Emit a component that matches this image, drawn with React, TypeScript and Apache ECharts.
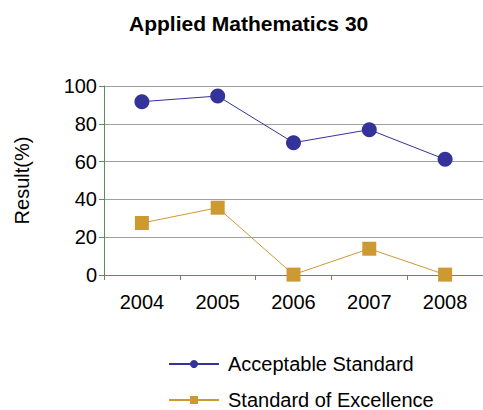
import React, { useEffect, useRef } from "react";
import * as echarts from "echarts";

const years = ["2004", "2005", "2006", "2007", "2008"];
const acceptable = [91.7, 94.7, 70, 76.9, 61.2];
const excellence = [27.5, 35.6, 0.2, 13.9, 0.2];
const seriesNames = ["Acceptable Standard", "Standard of Excellence"];

export default function App() {
  const ref = useRef<HTMLDivElement>(null);
  useEffect(() => {
    if (!ref.current) return;
    const chart = echarts.init(ref.current, null, { renderer: "svg" });
    const font = "Arial, 'Liberation Sans', sans-serif";
    const legendBase = {
      orient: "horizontal",
      left: 163,
      itemWidth: 50,
      itemHeight: 10,
      textStyle: { fontFamily: font, fontSize: 20, color: "#000", padding: [0, 0, 0, 4] },
    };
    chart.setOption({
      animation: false,
      backgroundColor: "#ffffff",
      title: {
        text: "Applied Mathematics 30",
        left: 124,
        top: 8,
        textStyle: { fontFamily: font, fontSize: 21, fontWeight: "bold", color: "#000" },
      },
      legend: [
        { ...legendBase, top: 349, data: [seriesNames[0]] },
        { ...legendBase, top: 385, data: [seriesNames[1]] },
      ],
      grid: { left: 104, right: 0, top: 86, bottom: 135 },
      xAxis: {
        type: "category",
        data: years,
        boundaryGap: true,
        axisLine: { lineStyle: { color: "#5B8C5A", width: 1 } },
        axisTick: { show: true, length: 5, lineStyle: { color: "#5B8C5A" } },
        axisLabel: { fontFamily: font, fontSize: 20, color: "#000", margin: 17 },
        splitLine: { show: false },
      },
      yAxis: {
        type: "value",
        min: 0,
        max: 100,
        interval: 20,
        name: "Result(%)",
        nameLocation: "middle",
        nameGap: 72,
        nameTextStyle: { fontFamily: font, fontSize: 20, color: "#000" },
        axisLine: { show: true, lineStyle: { color: "#5B8C5A", width: 1 } },
        axisTick: { show: true, length: 5, lineStyle: { color: "#5B8C5A" } },
        axisLabel: { fontFamily: font, fontSize: 20, color: "#000", margin: 7 },
        splitLine: { show: true, lineStyle: { color: "#A0A0A0", width: 1 } },
      },
      series: [
        {
          name: seriesNames[0],
          type: "line",
          data: acceptable,
          symbol: "circle",
          symbolSize: 15,
          itemStyle: { color: "#333399" },
          lineStyle: { color: "#333399", width: 1 },
        },
        {
          name: seriesNames[1],
          type: "line",
          data: excellence,
          symbol: "rect",
          symbolSize: 14,
          itemStyle: { color: "#CC9933" },
          lineStyle: { color: "#CC9933", width: 1 },
        },
      ],
    });
    return () => chart.dispose();
  }, []);
  return (
    <div
      ref={ref}
      style={{ position: "absolute", left: 0, top: 0, width: 483, height: 410 }}
    />
  );
}
